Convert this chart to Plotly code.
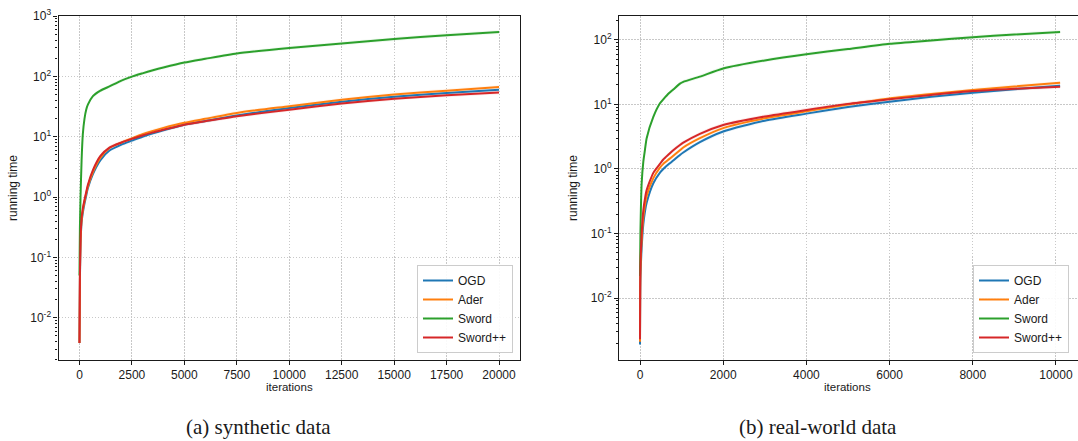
import plotly.graph_objects as go

# ---------------- data: (a) synthetic data ----------------
iters_a = [0, 20, 50, 100, 160, 240, 320, 400, 640, 1000, 1430, 2000, 2500, 3000, 3500,
           4000, 5000, 6000, 7500, 10000, 12500, 15000, 17500, 20000]
ogd_a   = [0.0038, 0.04, 0.16, 0.38, 0.55, 0.78, 1.05, 1.4, 2.4, 4.1, 5.9, 7.4, 8.6, 10.0, 11.4,
           12.8, 15.8, 18.2, 22.5, 30, 38, 46, 53, 60]
ader_a  = [0.0038, 0.045, 0.18, 0.42, 0.6, 0.85, 1.15, 1.5, 2.6, 4.5, 6.5, 8.0, 9.4, 11.0, 12.5,
           14.0, 17.0, 19.8, 24.8, 32, 41, 50, 58, 66.4]
sword_a = [0.05, 0.3, 1.0, 4.0, 11.0, 20, 28, 34, 47, 58, 68, 85, 99, 112, 126,
           140, 169, 195, 240, 295, 351, 414, 482, 541]
swpp_a  = [0.0038, 0.05, 0.2, 0.45, 0.65, 0.9, 1.2, 1.6, 2.8, 4.8, 6.6, 8.0, 9.2, 10.5, 11.8,
           13.0, 15.8, 18.0, 21.8, 28, 35.5, 42.7, 48.5, 54]

# ---------------- data: (b) real-world data ----------------
iters_b = [0, 10, 40, 80, 120, 160, 320, 480, 560, 700, 800, 960, 1040, 1440, 2000,
           3000, 4000, 5000, 6000, 7000, 8000, 9000, 10100]
ogd_b   = [0.0019, 0.02, 0.06, 0.14, 0.22, 0.3, 0.6, 0.88, 1.0, 1.2, 1.35, 1.65, 1.8, 2.6, 3.8,
           5.6, 7.2, 9.1, 11.0, 13.1, 15.1, 17.2, 19.5]
ader_b  = [0.0021, 0.025, 0.08, 0.18, 0.28, 0.38, 0.72, 1.05, 1.2, 1.42, 1.6, 1.95, 2.15, 3.0, 4.3,
           6.1, 7.8, 10.0, 12.4, 14.5, 16.7, 19.0, 21.6]
sword_b = [0.022, 0.1, 0.6, 1.3, 2.0, 3.0, 6.4, 10.4, 12.0, 15.0, 17.0, 21.0, 22.4, 27, 36,
           48, 60, 72, 87, 98, 110, 121, 133]
swpp_b  = [0.0023, 0.03, 0.1, 0.23, 0.35, 0.47, 0.87, 1.2, 1.4, 1.7, 1.95, 2.35, 2.55, 3.5, 4.8,
           6.5, 8.2, 10.2, 12.0, 14.0, 16.1, 17.5, 18.8]

names = ["OGD", "Ader", "Sword", "Sword++"]
colors = ["#1f77b4", "#ff7f0e", "#2ca02c", "#d62728"]
band_rgba = ["rgba(31,119,180,0.08)", "rgba(255,127,14,0.08)",
             "rgba(44,160,44,0.08)", "rgba(214,39,40,0.10)"]

xticks_a = [0, 2500, 5000, 7500, 10000, 12500, 15000, 17500, 20000]
xticks_b = [0, 2000, 4000, 6000, 8000, 10000]
yexp_a = [-2, -1, 0, 1, 2, 3]
yexp_b = [-2, -1, 0, 1, 2]

W, H = 1078, 441
fig = go.Figure()

panels = [
    (iters_a, [ogd_a, ader_a, sword_a, swpp_a], "x", "y", "legend"),
    (iters_b, [ogd_b, ader_b, sword_b, swpp_b], "x2", "y2", "legend2"),
]
for xs, series, xa, ya, lg in panels:
    for name, col, band, ys in zip(names, colors, band_rgba, series):
        hi = [v * 1.07 for v in ys]
        lo = [v / 1.07 for v in ys]
        fig.add_trace(go.Scatter(x=xs, y=hi, mode="lines",
                                 line=dict(width=0, shape="spline", smoothing=0.6),
                                 showlegend=False, hoverinfo="skip", xaxis=xa, yaxis=ya))
        fig.add_trace(go.Scatter(x=xs, y=lo, mode="lines",
                                 line=dict(width=0, shape="spline", smoothing=0.6),
                                 fill="tonexty", fillcolor=band,
                                 showlegend=False, hoverinfo="skip", xaxis=xa, yaxis=ya))
    for name, col, ys in zip(names, colors, series):
        fig.add_trace(go.Scatter(x=xs, y=ys, mode="lines", name=name,
                                 line=dict(color=col, width=2, shape="spline", smoothing=0.6),
                                 xaxis=xa, yaxis=ya, legend=lg))

font_fam = "Liberation Sans, Arial, sans-serif"
common_axis = dict(
    showline=True, linecolor="#1a1a1a", linewidth=1.1, mirror=True,
    ticks="outside", ticklen=4, tickwidth=1, tickcolor="#1a1a1a",
    showgrid=True, gridcolor="#c8c8c8", griddash="1.5px,1.5px", gridwidth=0.8,
    zeroline=False, automargin=False,
    tickfont=dict(family=font_fam, size=12, color="#1a1a1a"),
)


def minor_vals(lo, hi):
    out = []
    for e in range(lo, hi + 1):
        for m in range(2, 10):
            out.append(m * 10.0 ** e)
    return out


def log_axis(exps, rng, anchor, lo, hi):
    return dict(type="log", range=rng, anchor=anchor,
                tickmode="array", tickvals=[10.0 ** e for e in exps],
                ticktext=["10<sup>%d</sup>" % e for e in exps],
                minor=dict(ticks="outside", ticklen=2, tickcolor="#1a1a1a",
                           tickmode="array", tickvals=minor_vals(lo, hi), showgrid=False),
                **common_axis)


ybot, ytop = (H - 360) / H, (H - 16) / H
fig.update_layout(
    width=W, height=H,
    margin=dict(l=0, r=0, t=0, b=0, autoexpand=False),
    paper_bgcolor="white", plot_bgcolor="white",
    font=dict(family=font_fam, size=12, color="#1a1a1a"),
    xaxis=dict(domain=[58.5 / W, 520 / W], range=[-1000, 21000],
               tickmode="array", tickvals=xticks_a, ticktext=[str(v) for v in xticks_a],
               anchor="y", **common_axis),
    yaxis=dict(domain=[ybot, ytop], **log_axis(yexp_a, [-2.7, 3.0], "x", -3, 2)),
    xaxis2=dict(domain=[619 / W, 1.0], range=[-505, 10530],
                tickmode="array", tickvals=xticks_b, ticktext=[str(v) for v in xticks_b],
                anchor="y2", **common_axis),
    yaxis2=dict(domain=[ybot, ytop], **log_axis(yexp_b, [-2.96, 2.37], "x2", -3, 2)),
    legend=dict(x=513 / W, y=(H - 353) / H, xanchor="right", yanchor="bottom",
                traceorder="normal",
                bgcolor="rgba(255,255,255,0.9)", bordercolor="#cccccc", borderwidth=1,
                font=dict(family=font_fam, size=12, color="#1a1a1a")),
    legend2=dict(x=1069 / W, y=(H - 353) / H, xanchor="right", yanchor="bottom",
                 traceorder="normal",
                 bgcolor="rgba(255,255,255,0.9)", bordercolor="#cccccc", borderwidth=1,
                 font=dict(family=font_fam, size=12, color="#1a1a1a")),
)

ann = [
    dict(text="iterations", x=289 / W, y=(H - 387) / H, size=11.5, angle=0),
    dict(text="iterations", x=848 / W, y=(H - 387) / H, size=11.5, angle=0),
    dict(text="running time", x=13 / W, y=(H - 188) / H, size=12, angle=-90),
    dict(text="running time", x=573 / W, y=(H - 188) / H, size=12, angle=-90),
]
for a in ann:
    fig.add_annotation(text=a["text"], x=a["x"], y=a["y"], xref="paper", yref="paper",
                       showarrow=False, textangle=a["angle"], xanchor="center", yanchor="middle",
                       font=dict(family=font_fam, size=a["size"], color="#1a1a1a"))

cap_font = dict(family="Liberation Serif, DejaVu Serif, serif", size=21, color="#1a1a1a")
fig.add_annotation(text="(a) synthetic data", x=258 / W, y=(H - 427) / H, xref="paper", yref="paper",
                   showarrow=False, xanchor="center", yanchor="middle", font=cap_font)
fig.add_annotation(text="(b) real-world data", x=818 / W, y=(H - 427) / H, xref="paper", yref="paper",
                   showarrow=False, xanchor="center", yanchor="middle", font=cap_font)

fig.write_html("out.html", config={"displayModeBar": False},
               post_script="document.body.style.margin='0';document.body.style.overflow='hidden';")
